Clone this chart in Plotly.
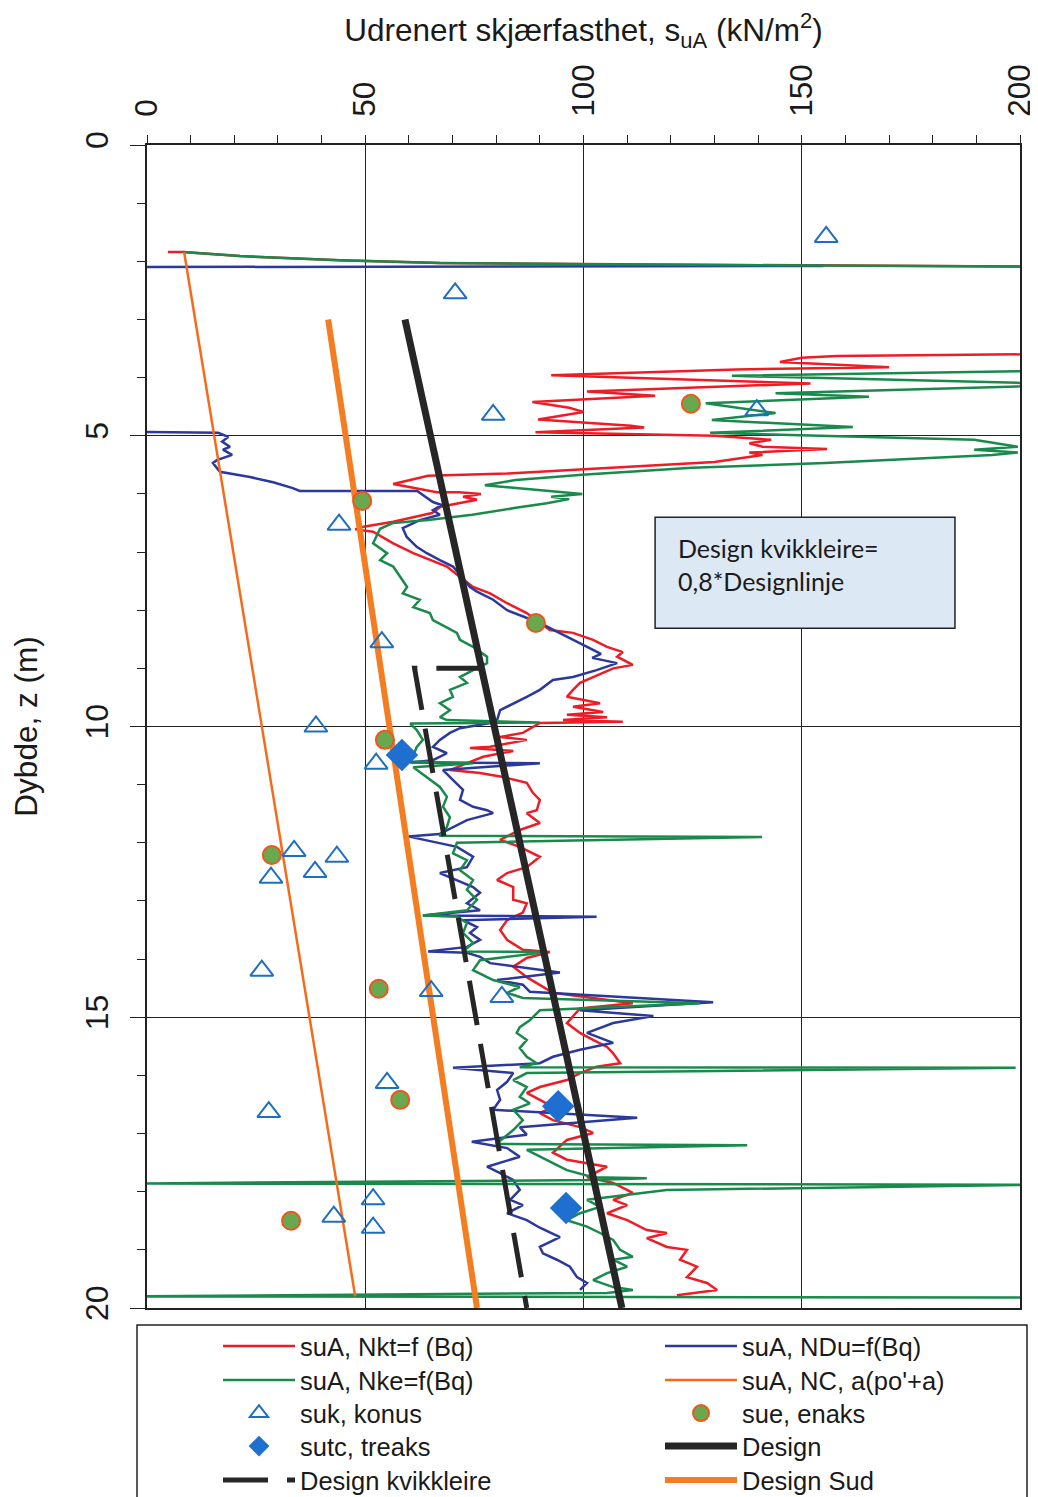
import plotly.graph_objects as go

# ---------------- data (value kN/m2, depth m) ----------------
red_val = [4.8, 8.2, 21.3, 44.2, 67.1, 101.5, 150, 200, 240, 245, 230, 200, 158, 150, 145, 170, 135, 92.6, 152, 100.8, 116.4,
           88.3, 96.7, 100, 89.6, 110.9, 113.9, 89, 130, 143, 138, 141, 155.8, 138, 141, 130, 104.7, 82.5, 64.4, 56.4, 66.4,
           71.5, 76.5, 72.4, 75.6, 67.3, 65.3, 56.4, 49.3, 47.7, 51.8, 56.4, 61, 64.8, 68.7, 71.7, 74.7, 78.6, 82.5, 87, 90,
           92.3, 97.6, 102.2, 105.4, 109, 107.7, 111.3, 106.8, 102.2, 99.2, 97.6, 96.2, 103.8, 97.6, 104.5, 96.2, 105.4, 95.3, 109, 90,
           86.1, 80.9, 87, 78.6, 74, 83.9, 77, 69.4, 76.3, 81.6, 87, 88.4, 90, 89.3, 87, 90, 85.4, 80.9, 85.4, 90,
           87, 82.5, 80.2, 83.9, 83.9, 87, 86.1, 82.5, 80.9, 82.5, 86.1, 92.3, 87, 83.9, 87, 89.3, 93, 111.3, 99.2, 96.2,
           99.2, 102.2, 105.4, 106.8, 108.4, 103, 99.2, 96.2, 90, 87, 93, 90, 93, 99.2, 102.2, 96.2, 93, 96.2, 105.4, 100.8,
           106.8, 111.3, 106.8, 110, 105.4, 110, 114.5, 119.1, 114.5, 119.1, 123.7, 122.1, 126, 123.7, 128.3, 130.6, 121.4]
red_z = [1.84, 1.84, 1.91, 1.98, 2.03, 2.05, 2.07, 2.09, 2.2, 3.0, 3.5, 3.6, 3.63, 3.66, 3.73, 3.82, 3.86, 3.96, 4.10, 4.24, 4.31,
         4.42, 4.52, 4.59, 4.72, 4.83, 4.86, 4.94, 5.0, 5.07, 5.13, 5.19, 5.23, 5.29, 5.33, 5.45, 5.56, 5.65, 5.69, 5.83, 5.97,
         5.97, 6.0, 6.05, 6.1, 6.22, 6.33, 6.48, 6.57, 6.61, 6.65, 6.85, 7.02, 7.14, 7.25, 7.43, 7.6, 7.71, 7.88, 8.05, 8.22,
         8.34, 8.39, 8.51, 8.63, 8.72, 8.8, 8.94, 9.0, 9.15, 9.25, 9.37, 9.49, 9.6, 9.66, 9.75, 9.8, 9.84, 9.89, 9.92, 9.94,
         10.11, 10.18, 10.23, 10.35, 10.37, 10.42, 10.52, 10.75, 10.8, 10.87, 10.97, 11.14, 11.26, 11.44, 11.49, 11.66, 11.78, 11.95, 12.07, 12.24,
         12.42, 12.52, 12.64, 12.76, 12.98, 13.04, 13.2, 13.33, 13.5, 13.67, 13.84, 13.88, 13.98, 14.13, 14.31, 14.41, 14.58, 14.76, 14.85, 15.1,
         15.27, 15.39, 15.51, 15.62, 15.79, 15.85, 15.96, 16.08, 16.2, 16.3, 16.54, 16.65, 16.77, 16.89, 16.99, 17.11, 17.33, 17.45, 17.57, 17.75,
         17.85, 18.02, 18.14, 18.23, 18.37, 18.49, 18.66, 18.71, 18.8, 18.95, 19.0, 19.17, 19.29, 19.47, 19.57, 19.69, 19.78]

blue_profile = [(155, 2.08), (-10, 2.1), (-10, 4.93), (16.3, 4.95), (18.6, 5.02), (17.2, 5.1), (19.0, 5.19), (17.4, 5.24),
                (19.5, 5.33), (16.0, 5.42), (15.1, 5.47), (16.7, 5.62), (23.6, 5.71), (28.9, 5.8), (33.4, 5.9), (35, 5.95),
                (61.9, 5.95), (64.1, 6.07), (65.5, 6.14), (67.5, 6.19), (65.5, 6.28), (67.1, 6.36), (62.5, 6.45), (58.6, 6.59),
                (59.5, 6.74), (61.8, 6.91), (64.1, 7.02), (67.1, 7.14), (70.1, 7.25), (71.7, 7.39), (74, 7.6), (75.6, 7.68),
                (79.3, 7.82), (82.5, 8.0), (86.1, 8.11), (90, 8.22), (93.9, 8.37), (97.6, 8.51), (100.8, 8.63), (104, 8.75),
                (102, 8.82), (107.7, 8.91), (103, 9.03), (97.6, 9.15), (93, 9.2), (90, 9.37), (87, 9.49), (83.9, 9.6),
                (80.9, 9.72), (80.2, 9.89), (78.6, 9.94), (71.7, 10.03), (69.4, 10.11), (67.1, 10.23), (65.5, 10.35), (68.7, 10.46),
                (65.5, 10.58), (60.3, 10.62), (90, 10.63), (67.8, 10.75), (70.1, 10.92), (72.4, 11.09), (71.7, 11.26), (74.7, 11.38),
                (77.9, 11.44), (79.3, 11.49), (73.3, 11.61), (67, 11.85), (59.8, 11.89), (71, 12.07), (74.7, 12.24), (73.3, 12.42),
                (67.1, 12.52), (71, 12.64), (74.7, 12.76), (76.3, 12.86), (73.3, 13.04), (76.3, 13.16), (63.2, 13.25), (103, 13.27),
                (72.4, 13.33), (75.6, 13.45), (74, 13.55), (76.3, 13.67), (73.3, 13.79), (64.4, 13.87), (73.3, 13.89), (76.3, 13.96),
                (78.6, 14.07), (94.6, 14.23), (80.2, 14.36), (86.1, 14.44), (87.7, 14.56), (129.7, 14.74), (99.2, 14.88), (116, 14.98),
                (106.8, 15.1), (100.8, 15.27), (106.8, 15.44), (99.2, 15.56), (93, 15.68), (90, 15.79), (70.1, 15.87), (83.9, 15.96),
                (82.5, 16.11), (80.2, 16.25), (80.9, 16.42), (79.3, 16.59), (112.3, 16.73), (85.4, 16.89), (87, 17.02), (74.4, 17.14),
                (82.5, 17.25), (85.4, 17.4), (77.9, 17.57), (80.9, 17.68), (83.9, 17.8), (85.4, 17.97), (83.2, 18.14), (86.1, 18.23),
                (82.5, 18.37), (87, 18.49), (90, 18.62), (94.6, 18.78), (90, 18.95), (90.7, 19.06), (93.9, 19.17), (96.9, 19.29),
                (98.5, 19.47), (100.8, 19.57), (99.2, 19.69)]

green_profile = [(8.2, 1.84), (21.3, 1.91), (44.2, 1.98), (67.1, 2.03), (101.5, 2.05), (150, 2.07), (200, 2.09), (235, 2.2),
                 (240, 3.0), (220, 3.8), (200, 3.89), (134, 3.97), (170, 4.03), (205, 4.1), (200, 4.15), (144, 4.27),
                 (165.4, 4.33), (128, 4.44), (144, 4.61), (129.4, 4.73), (161.7, 4.85), (129, 4.95), (189.5, 5.07), (199.5, 5.19),
                 (189.5, 5.24), (199.5, 5.29), (193.6, 5.33), (155.3, 5.47), (124.9, 5.55), (99.7, 5.67), (84.5, 5.76), (77.4, 5.85),
                 (99.7, 6.0), (92.6, 6.05), (96.7, 6.09), (91.6, 6.16), (84.5, 6.24), (74.5, 6.36), (64.4, 6.45), (56.4, 6.5),
                 (53.4, 6.6), (51.8, 6.85), (55, 7.02), (53.4, 7.14), (56.4, 7.25), (58, 7.43), (59.6, 7.6), (58.6, 7.71),
                 (62.5, 7.82), (61, 7.95), (64.8, 8.05), (65.5, 8.17), (68.7, 8.29), (71, 8.39), (71.7, 8.51), (74.7, 8.63),
                 (77.9, 8.8), (77.9, 8.91), (74.7, 9.03), (71.7, 9.15), (73.3, 9.25), (69.4, 9.37), (70.1, 9.49), (67.1, 9.6),
                 (69.4, 9.72), (67.1, 9.84), (68.7, 9.89), (90, 9.93), (60.3, 9.95), (61.8, 10.06), (63.2, 10.23), (61.8, 10.35),
                 (60.5, 10.6), (74.7, 10.63), (61, 10.7), (64.1, 10.87), (67.1, 11.04), (68.7, 11.21), (67.8, 11.38), (69.4, 11.56),
                 (68.7, 11.73), (67, 11.88), (140.9, 11.9), (71, 12.0), (70.1, 12.18), (73.3, 12.3), (71.7, 12.47), (74.7, 12.64),
                 (73.3, 12.81), (75.6, 12.98), (73.3, 13.16), (63.2, 13.25), (71, 13.27), (73.3, 13.38), (72.4, 13.55), (74.7, 13.72),
                 (72.4, 13.87), (91.6, 13.88), (76.3, 14.02), (74.7, 14.19), (79.3, 14.36), (85.4, 14.48), (82.5, 14.58), (86.1, 14.67),
                 (126.7, 14.76), (90, 14.88), (87.7, 15.05), (85.4, 15.17), (84.7, 15.27), (87, 15.39), (85.4, 15.53), (87, 15.68),
                 (89.3, 15.79), (85.4, 15.86), (199, 15.87), (87, 15.96), (83.9, 16.08), (87, 16.2), (85.4, 16.37), (87.7, 16.48),
                 (83.9, 16.59), (86.1, 16.77), (83.9, 16.94), (80, 17.18), (137.5, 17.2), (87, 17.28), (90, 17.4), (93, 17.51),
                 (96.2, 17.63), (102.2, 17.75), (114.5, 17.77), (102, 17.8), (-5, 17.86), (205, 17.88), (119, 17.97), (100.8, 18.14),
                 (103.8, 18.26), (99.2, 18.37), (96.2, 18.49), (100.8, 18.6), (103.8, 18.71), (106.8, 18.83), (108.4, 19.0), (111.3, 19.12),
                 (106.8, 19.17), (110, 19.29), (105.4, 19.4), (102.2, 19.52), (106.8, 19.64), (111.3, 19.69), (105.4, 19.74), (-5, 19.8),
                 (205, 19.82)]

nc_val = [8.5, 47.7]
nc_z = [1.84, 19.8]

design_val = [59.1, 108.8]
design_z = [3.0, 20.0]
design_sud_val = [41.5, 75.6]
design_sud_z = [3.0, 20.0]
kvikk_val = [76.6, 61.3, 87.0]
kvikk_z = [9.0, 9.0, 20.0]

suk_val = [155.6, 70.6, 79.3, 139.7, 44.0, 53.8, 38.7, 52.5, 33.7, 43.5, 28.4, 38.5, 26.3, 65.1, 81.3, 55.0, 27.9, 51.8, 42.8, 51.8]
suk_z = [1.58, 2.55, 4.64, 4.56, 6.53, 8.55, 10.0, 10.64, 12.14, 12.24, 12.6, 12.5, 14.2, 14.55, 14.65, 16.13, 16.63, 18.13, 18.43, 18.62]

sue_val = [124.6, 49.3, 89.1, 54.5, 28.6, 53.1, 58.0, 33.0]
sue_z = [4.45, 6.12, 8.22, 10.23, 12.21, 14.51, 16.42, 18.5]

sutc_val = [58.4, 94.2, 96.0]
sutc_z = [10.49, 16.53, 18.28]

x_ticks = [0, 50, 100, 150, 200]
y_ticks = [0, 5, 10, 15, 20]

blue_val = [p[0] for p in blue_profile]
blue_z = [p[1] for p in blue_profile]
green_val = [p[0] for p in green_profile]
green_z = [p[1] for p in green_profile]

FONT = "Liberation Sans, Arial, sans-serif"

# legend slots: (column, row) -> each entry gets its own legend box so rows sit exactly
fig = go.Figure()
fig.add_trace(go.Scatter(x=red_val, y=red_z, mode="lines", name="suA, Nkt=f (Bq)",
                         line=dict(color="#ee1c25", width=2.5), legend="legend"))
fig.add_trace(go.Scatter(x=blue_val, y=blue_z, mode="lines", name="suA, NDu=f(Bq)",
                         line=dict(color="#2b389c", width=2.5), legend="legend6"))
fig.add_trace(go.Scatter(x=green_val, y=green_z, mode="lines", name="suA, Nke=f(Bq)",
                         line=dict(color="#198a4b", width=2.5), legend="legend2"))
fig.add_trace(go.Scatter(x=nc_val, y=nc_z, mode="lines", name="suA, NC, a(po'+a)",
                         line=dict(color="#f66a1c", width=2.5), legend="legend7"))
fig.add_trace(go.Scatter(x=design_sud_val, y=design_sud_z, mode="lines", name="Design Sud",
                         line=dict(color="#f47d22", width=6), legend="legend10"))
fig.add_trace(go.Scatter(x=design_val, y=design_z, mode="lines", name="Design",
                         line=dict(color="#262626", width=7), legend="legend9"))
fig.add_trace(go.Scatter(x=kvikk_val, y=kvikk_z, mode="lines", name="Design kvikkleire",
                         line=dict(color="#262626", width=5, dash="45px,19px"), legend="legend5"))
fig.add_trace(go.Scatter(x=suk_val, y=suk_z, mode="markers", name="suk, konus",
                         marker=dict(symbol="triangle-up-open", size=20, color="#1f6fc0",
                                     line=dict(width=2, color="#1f6fc0")), legend="legend3"))
fig.add_trace(go.Scatter(x=sue_val, y=sue_z, mode="markers", name="sue, enaks",
                         marker=dict(symbol="circle", size=18, color="#6aa84f",
                                     line=dict(width=2, color="#f2541b")), legend="legend8"))
fig.add_trace(go.Scatter(x=sutc_val, y=sutc_z, mode="markers", name="sutc, treaks",
                         marker=dict(symbol="diamond", size=25, color="#1e6fd0",
                                     line=dict(width=0)), legend="legend4"))

# the page adds an 8px body margin, so the figure is 8px smaller than the window
W, H = 1030, 1489
L, T = 139, 137
pw, ph = 873, 1163
R = W - L - pw
B = H - T - ph


def px_x(p):
    """screen x pixel -> paper x"""
    return (p - 147) / pw


def px_y(p):
    """screen y pixel -> paper y"""
    return (1308 - p) / ph


# legend frame
fig.add_shape(type="rect", xref="paper", yref="paper",
              x0=px_x(137), x1=px_x(1027), y0=px_y(1325), y1=px_y(1520),
              line=dict(color="#222", width=1.5), fillcolor="rgba(0,0,0,0)", layer="above")
# note box
fig.add_shape(type="rect", xref="x", yref="y", x0=116.4, x1=185.1, y0=6.40, y1=8.31,
              line=dict(color="#222", width=1.5), fillcolor="#dde8f5", layer="above")
fig.add_annotation(x=121.3, y=7.22, xref="x", yref="y", xanchor="left", yanchor="middle",
                   text="Design kvikkleire=<br>0,8*Designlinje", showarrow=False, align="left",
                   font=dict(family="Lato, Open Sans, sans-serif", size=25, color="#1a1a1a"))

legend_common = dict(orientation="v", xanchor="left", yanchor="top", itemwidth=72,
                     font=dict(family=FONT, size=25.5, color="#1a1a1a"),
                     bgcolor="rgba(0,0,0,0)", borderwidth=0, traceorder="normal",
                     tracegroupgap=0, itemclick=False, itemdoubleclick=False)
row_centres = [1347, 1381, 1414, 1447, 1481]
col_starts = [218, 660]
legends = {}
for c, xs in enumerate(col_starts):
    for r, yc in enumerate(row_centres):
        n = c * 5 + r + 1
        key = "legend" if n == 1 else "legend%d" % n
        legends[key] = dict(x=px_x(xs), y=px_y(yc - 24), **legend_common)

fig.update_layout(
    width=W, height=H,
    margin=dict(l=L, r=R, t=T, b=B, autoexpand=False),
    paper_bgcolor="white", plot_bgcolor="white",
    font=dict(family=FONT, color="#1a1a1a"),
    showlegend=True,
    xaxis=dict(range=[0, 200], side="top", tickvals=x_ticks, ticktext=[str(v) for v in x_ticks],
               tickangle=-90, tickfont=dict(size=31.5, family=FONT), ticks="outside", ticklen=8,
               tickcolor="#222", ticklabelstandoff=12,
               minor=dict(dtick=10, ticks="outside", ticklen=8, tickcolor="#222", showgrid=False),
               showgrid=True, gridcolor="#222", gridwidth=1, zeroline=False,
               showline=True, linecolor="#222", linewidth=2, mirror=True,
               title=dict(text="Udrenert skjærfasthet, s<sub>uA</sub> (kN/m<sup>2</sup>)",
                          font=dict(size=31.5, family=FONT), standoff=14)),
    yaxis=dict(range=[20, 0], tickvals=y_ticks, ticktext=[str(v) for v in y_ticks],
               tickangle=-90, tickfont=dict(size=32, family=FONT), ticks="outside", ticklen=15,
               tickcolor="#222", ticklabelstandoff=9,
               minor=dict(dtick=1, ticks="outside", ticklen=8, tickcolor="#222", showgrid=False),
               showgrid=True, gridcolor="#222", gridwidth=1, zeroline=False,
               showline=True, linecolor="#222", linewidth=2, mirror=True,
               title=dict(text="Dybde, z (m)", font=dict(size=31.5, family=FONT), standoff=35)),
    **legends,
)

fig.write_html("out.html")
